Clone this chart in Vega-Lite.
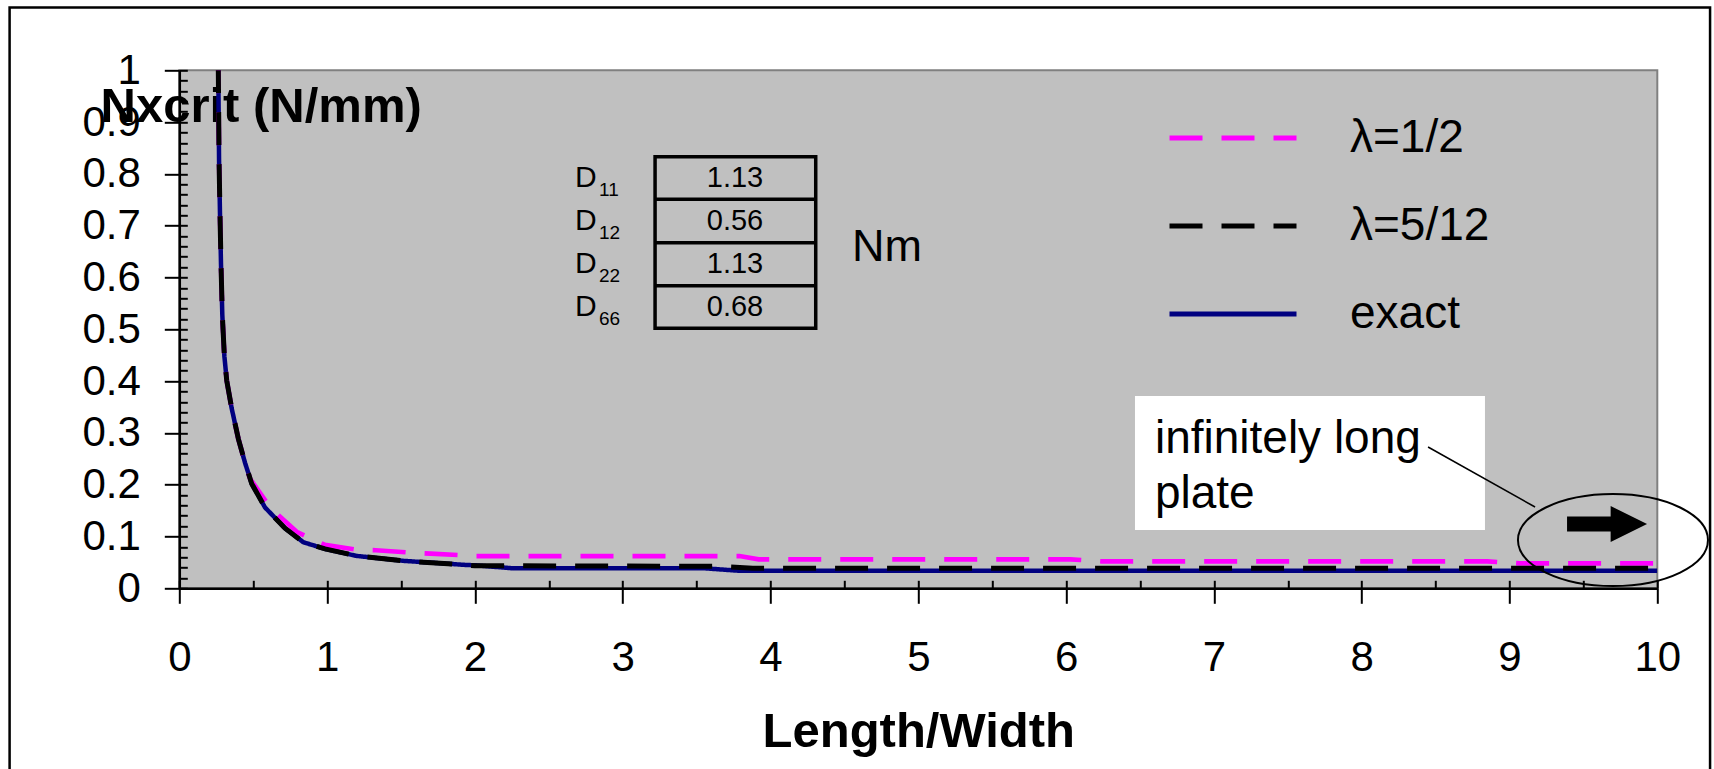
{
  "$schema": "https://vega.github.io/schema/vega-lite/v6.json",
  "width": 1478,
  "height": 518,
  "autosize": {"type": "none"},
  "padding": {"left": 179.3, "top": 70.3, "right": 56.7, "bottom": 180.7},
  "background": "white",
  "config": {
    "font": "Liberation Sans",
    "view": {"fill": "#C0C0C0", "stroke": "#808080", "strokeWidth": 2},
    "axis": {"grid": false, "tickColor": "black", "tickWidth": 2, "domainColor": "black", "domainWidth": 2.5, "labelColor": "black", "titleColor": "black"}
  },
  "data": {"values": [
    {"series": "exact", "x": 0.258, "y": 1.12},
    {"series": "exact", "x": 0.264, "y": 1.0},
    {"series": "exact", "x": 0.269, "y": 0.826},
    {"series": "exact", "x": 0.275, "y": 0.727},
    {"series": "exact", "x": 0.282, "y": 0.627},
    {"series": "exact", "x": 0.291, "y": 0.528},
    {"series": "exact", "x": 0.305, "y": 0.448},
    {"series": "exact", "x": 0.321, "y": 0.401},
    {"series": "exact", "x": 0.354, "y": 0.348},
    {"series": "exact", "x": 0.4, "y": 0.288},
    {"series": "exact", "x": 0.445, "y": 0.242},
    {"series": "exact", "x": 0.49, "y": 0.202},
    {"series": "exact", "x": 0.58, "y": 0.156},
    {"series": "exact", "x": 0.715, "y": 0.116},
    {"series": "exact", "x": 0.839, "y": 0.089},
    {"series": "exact", "x": 0.986, "y": 0.076},
    {"series": "exact", "x": 1.2, "y": 0.0625},
    {"series": "exact", "x": 1.516, "y": 0.053},
    {"series": "exact", "x": 1.944, "y": 0.045},
    {"series": "exact", "x": 2.0, "y": 0.0445},
    {"series": "exact", "x": 2.26, "y": 0.0385},
    {"series": "exact", "x": 3.56, "y": 0.0385},
    {"series": "exact", "x": 3.78, "y": 0.034},
    {"series": "exact", "x": 10, "y": 0.034},
    {"series": "λ=5/12", "x": 0.258, "y": 1.12},
    {"series": "λ=5/12", "x": 0.264, "y": 1.0},
    {"series": "λ=5/12", "x": 0.269, "y": 0.826},
    {"series": "λ=5/12", "x": 0.275, "y": 0.727},
    {"series": "λ=5/12", "x": 0.282, "y": 0.627},
    {"series": "λ=5/12", "x": 0.291, "y": 0.528},
    {"series": "λ=5/12", "x": 0.305, "y": 0.448},
    {"series": "λ=5/12", "x": 0.321, "y": 0.401},
    {"series": "λ=5/12", "x": 0.354, "y": 0.348},
    {"series": "λ=5/12", "x": 0.4, "y": 0.288},
    {"series": "λ=5/12", "x": 0.445, "y": 0.242},
    {"series": "λ=5/12", "x": 0.49, "y": 0.202},
    {"series": "λ=5/12", "x": 0.58, "y": 0.156},
    {"series": "λ=5/12", "x": 0.715, "y": 0.116},
    {"series": "λ=5/12", "x": 0.839, "y": 0.089},
    {"series": "λ=5/12", "x": 0.986, "y": 0.076},
    {"series": "λ=5/12", "x": 1.2, "y": 0.0625},
    {"series": "λ=5/12", "x": 1.516, "y": 0.053},
    {"series": "λ=5/12", "x": 1.944, "y": 0.045},
    {"series": "λ=5/12", "x": 2.0, "y": 0.0435},
    {"series": "λ=5/12", "x": 3.65, "y": 0.0425},
    {"series": "λ=5/12", "x": 3.88, "y": 0.0385},
    {"series": "λ=5/12", "x": 10, "y": 0.0385},
    {"series": "λ=1/2", "x": 0.258, "y": 1.12},
    {"series": "λ=1/2", "x": 0.264, "y": 1.0},
    {"series": "λ=1/2", "x": 0.269, "y": 0.826},
    {"series": "λ=1/2", "x": 0.275, "y": 0.727},
    {"series": "λ=1/2", "x": 0.282, "y": 0.627},
    {"series": "λ=1/2", "x": 0.291, "y": 0.528},
    {"series": "λ=1/2", "x": 0.305, "y": 0.448},
    {"series": "λ=1/2", "x": 0.321, "y": 0.401},
    {"series": "λ=1/2", "x": 0.354, "y": 0.348},
    {"series": "λ=1/2", "x": 0.4, "y": 0.288},
    {"series": "λ=1/2", "x": 0.445, "y": 0.242},
    {"series": "λ=1/2", "x": 0.478, "y": 0.212},
    {"series": "λ=1/2", "x": 0.614, "y": 0.156},
    {"series": "λ=1/2", "x": 0.794, "y": 0.109},
    {"series": "λ=1/2", "x": 0.986, "y": 0.0837},
    {"series": "λ=1/2", "x": 1.2, "y": 0.0745},
    {"series": "λ=1/2", "x": 1.33, "y": 0.0735},
    {"series": "λ=1/2", "x": 1.56, "y": 0.069},
    {"series": "λ=1/2", "x": 1.7, "y": 0.067},
    {"series": "λ=1/2", "x": 1.9, "y": 0.064},
    {"series": "λ=1/2", "x": 2.0, "y": 0.0623},
    {"series": "λ=1/2", "x": 3.79, "y": 0.0623},
    {"series": "λ=1/2", "x": 3.92, "y": 0.056},
    {"series": "λ=1/2", "x": 6.03, "y": 0.056},
    {"series": "λ=1/2", "x": 6.24, "y": 0.052},
    {"series": "λ=1/2", "x": 8.85, "y": 0.052},
    {"series": "λ=1/2", "x": 9.07, "y": 0.048},
    {"series": "λ=1/2", "x": 10, "y": 0.048}
  ]},
  "resolve": {"axis": {"x": "independent", "y": "independent"}},
  "layer": [
    {
      "data": {"values": [{}]},
      "mark": {"type": "rect", "filled": false, "stroke": "black", "strokeWidth": 2.5, "clip": false},
      "encoding": {
        "x": {"datum": -1.1482, "type": "quantitative", "scale": {"domain": [0, 10], "nice": false, "zero": false},
          "axis": {"orient": "bottom", "values": [0,1,2,3,4,5,6,7,8,9,10], "tickSize": -8, "domain": false, "labels": false, "title": null}},
        "x2": {"datum": 10.357},
        "y": {"datum": 1.1212, "type": "quantitative", "scale": {"domain": [0, 1], "nice": false, "zero": false},
          "axis": {"orient": "left", "values": [0,0.1,0.2,0.3,0.4,0.5,0.6,0.7,0.8,0.9,1], "tickSize": -8, "domain": false, "labels": false, "title": null}},
        "y2": {"datum": -0.5}
      }
    },
    {
      "data": {"values": [{}]},
      "mark": {"type": "rect", "filled": false, "stroke": "black", "strokeWidth": 3.5, "clip": false},
      "encoding": {
        "x": {"datum": 3.219, "type": "quantitative",
          "axis": {"orient": "bottom", "values": [0.5,1.5,2.5,3.5,4.5,5.5,6.5,7.5,8.5,9.5], "tickSize": -8, "domain": false, "labels": false, "title": null}},
        "x2": {"datum": 4.306},
        "y": {"datum": 0.8332, "type": "quantitative",
          "axis": {"orient": "left", "values": [0.02,0.04,0.06,0.08,0.12,0.14,0.16,0.18,0.22,0.24,0.26,0.28,0.32,0.34,0.36,0.38,0.42,0.44,0.46,0.48,0.52,0.54,0.56,0.58,0.62,0.64,0.66,0.68,0.72,0.74,0.76,0.78,0.82,0.84,0.86,0.88,0.92,0.94,0.96,0.98], "tickSize": -8, "domain": false, "labels": false, "title": null}},
        "y2": {"datum": 0.5019}
      }
    },
    {
      "data": {"values": [{}]},
      "mark": {"type": "rule", "stroke": "black", "strokeWidth": 3.5},
      "encoding": {"x": {"datum": 3.219, "type": "quantitative", "axis": null}, "x2": {"datum": 4.306}, "y": {"datum": 0.751, "type": "quantitative", "axis": null}}
    },
    {
      "data": {"values": [{}]},
      "mark": {"type": "rule", "stroke": "black", "strokeWidth": 3.5},
      "encoding": {"x": {"datum": 3.219, "type": "quantitative", "axis": null}, "x2": {"datum": 4.306}, "y": {"datum": 0.6672, "type": "quantitative", "axis": null}}
    },
    {
      "data": {"values": [{}]},
      "mark": {"type": "rule", "stroke": "black", "strokeWidth": 3.5},
      "encoding": {"x": {"datum": 3.219, "type": "quantitative", "axis": null}, "x2": {"datum": 4.306}, "y": {"datum": 0.5842, "type": "quantitative", "axis": null}}
    },
    {
      "data": {"values": [{}]},
      "mark": {"type": "text", "text": ["1.13", "0.56", "1.13", "0.68"], "fontSize": 29, "lineHeight": 42.9, "align": "center", "baseline": "middle", "color": "black"},
      "encoding": {"x": {"datum": 3.76, "type": "quantitative", "axis": null}, "y": {"datum": 0.7921, "type": "quantitative", "axis": null}}
    },
    {
      "data": {"values": [{}]},
      "mark": {"type": "text", "text": ["D", "D", "D", "D"], "fontSize": 30, "lineHeight": 42.9, "align": "left", "baseline": "middle", "color": "black"},
      "encoding": {"x": {"datum": 2.677, "type": "quantitative", "axis": null}, "y": {"datum": 0.7921, "type": "quantitative", "axis": null}}
    },
    {
      "data": {"values": [{}]},
      "mark": {"type": "text", "text": ["11", "12", "22", "66"], "fontSize": 19, "lineHeight": 42.9, "align": "left", "baseline": "middle", "color": "black"},
      "encoding": {"x": {"datum": 2.84, "type": "quantitative", "axis": null}, "y": {"datum": 0.7689, "type": "quantitative", "axis": null}}
    },
    {
      "data": {"values": [{}]},
      "mark": {"type": "text", "text": "Nm", "fontSize": 45, "align": "left", "baseline": "alphabetic", "color": "black"},
      "encoding": {"x": {"datum": 4.551, "type": "quantitative", "axis": null}, "y": {"datum": 0.6324, "type": "quantitative", "axis": null}}
    },
    {
      "data": {"values": [{}]},
      "mark": {"type": "rect", "fill": "white", "strokeWidth": 0},
      "encoding": {"x": {"datum": 6.466, "type": "quantitative", "axis": null}, "x2": {"datum": 8.834}, "y": {"datum": 0.3712, "type": "quantitative", "axis": null}, "y2": {"datum": 0.1125}}
    },
    {
      "data": {"values": [{}]},
      "mark": {"type": "text", "text": ["infinitely long", "plate"], "fontSize": 46, "lineHeight": 55, "align": "left", "baseline": "alphabetic", "color": "black"},
      "encoding": {"x": {"datum": 6.601, "type": "quantitative", "axis": null}, "y": {"datum": 0.2618, "type": "quantitative", "axis": null}}
    },
    {
      "transform": [{"filter": "datum.series === 'exact'"}],
      "mark": {"type": "line", "strokeWidth": 4.5, "clip": true},
      "encoding": {
        "x": {"field": "x", "type": "quantitative",
          "axis": {"orient": "bottom", "values": [0,1,2,3,4,5,6,7,8,9,10], "format": "d", "tickSize": 15, "labelFontSize": 42, "labelPadding": 66.7, "labelBaseline": "alphabetic", "labelFlush": false, "labelOverlap": false, "title": "Length/Width", "titleFontSize": 49, "titleFontWeight": "bold", "titleBaseline": "alphabetic", "titleY": 158}},
        "y": {"field": "y", "type": "quantitative",
          "axis": {"orient": "left", "values": [0,0.1,0.2,0.3,0.4,0.5,0.6,0.7,0.8,0.9,1], "format": "~g", "tickSize": 15, "labelFontSize": 42, "labelPadding": 24, "labelFlush": false, "labelOverlap": false, "title": "Nxcrit (N/mm)", "titleAngle": 0, "titleAlign": "left", "titleBaseline": "alphabetic", "titleX": -79.3, "titleY": 51.4, "titleFontSize": 49, "titleFontWeight": "bold"}},
        "color": {"field": "series", "type": "nominal",
          "scale": {"domain": ["λ=1/2", "λ=5/12", "exact"], "range": ["#FF00FF", "#000000", "#000080"]},
          "legend": {"orient": "none", "legendX": 987.7, "legendY": 37.7, "title": null, "symbolType": "stroke", "symbolSize": 16129, "symbolStrokeWidth": 5, "clipHeight": 60, "rowPadding": 28, "labelFontSize": 46, "labelColor": "black", "labelOffset": 51, "labelLimit": 600, "padding": 0,
            "encode": {"symbols": {"update": {"stroke": {"signal": "datum.value === 'λ=1/2' ? '#FF3399' : datum.value === 'λ=5/12' ? '#000000' : '#000080'"}}}}}},
        "strokeDash": {"field": "series", "type": "nominal",
          "scale": {"domain": ["λ=1/2", "λ=5/12", "exact"], "range": [[33, 19], [33, 19], [1, 0]]},
          "legend": {"orient": "none", "legendX": 987.7, "legendY": 37.7, "title": null, "symbolType": "stroke", "symbolSize": 16129, "symbolStrokeWidth": 5, "clipHeight": 60, "rowPadding": 28, "labelFontSize": 46, "labelColor": "black", "labelOffset": 51, "labelLimit": 600, "padding": 0,
            "encode": {"symbols": {"update": {"stroke": {"signal": "datum.value === 'λ=1/2' ? '#FF3399' : datum.value === 'λ=5/12' ? '#000000' : '#000080'"}}}}}}
      }
    },
    {
      "transform": [{"filter": "datum.series === 'λ=1/2'"}],
      "mark": {"type": "line", "strokeWidth": 4.7, "clip": true},
      "encoding": {
        "x": {"field": "x", "type": "quantitative", "axis": null},
        "y": {"field": "y", "type": "quantitative", "axis": null},
        "color": {"field": "series", "type": "nominal"},
        "strokeDash": {"field": "series", "type": "nominal"}
      }
    },
    {
      "transform": [{"filter": "datum.series === 'λ=5/12'"}],
      "mark": {"type": "line", "strokeWidth": 5, "clip": true},
      "encoding": {
        "x": {"field": "x", "type": "quantitative", "axis": null},
        "y": {"field": "y", "type": "quantitative", "axis": null},
        "color": {"field": "series", "type": "nominal"},
        "strokeDash": {"field": "series", "type": "nominal"}
      }
    },
    {
      "data": {"values": [{}]},
      "mark": {"type": "rule", "stroke": "black", "strokeWidth": 1.5, "clip": false},
      "encoding": {"x": {"datum": 8.449, "type": "quantitative", "axis": null}, "x2": {"datum": 9.173}, "y": {"datum": 0.2728, "type": "quantitative", "axis": null}, "y2": {"datum": 0.157}}
    },
    {
      "data": {"values": [{}]},
      "mark": {"type": "point", "shape": "M -1 0 A 1 0.484 0 1 1 1 0 A 1 0.484 0 1 1 -1 0 Z", "size": 36100, "filled": false, "color": "black", "strokeWidth": 2, "opacity": 1, "clip": false},
      "encoding": {"x": {"datum": 9.7, "type": "quantitative", "axis": null}, "y": {"datum": 0.0932, "type": "quantitative", "axis": null}}
    },
    {
      "data": {"values": [{}]},
      "mark": {"type": "point", "shape": "M -1 -0.19 L 0.09 -0.19 L 0.09 -0.45 L 1 0 L 0.09 0.45 L 0.09 0.19 L -1 0.19 Z", "size": 6400, "filled": true, "color": "black", "opacity": 1, "clip": false},
      "encoding": {"x": {"datum": 9.66, "type": "quantitative", "axis": null}, "y": {"datum": 0.1241, "type": "quantitative", "axis": null}}
    }
  ]
}
